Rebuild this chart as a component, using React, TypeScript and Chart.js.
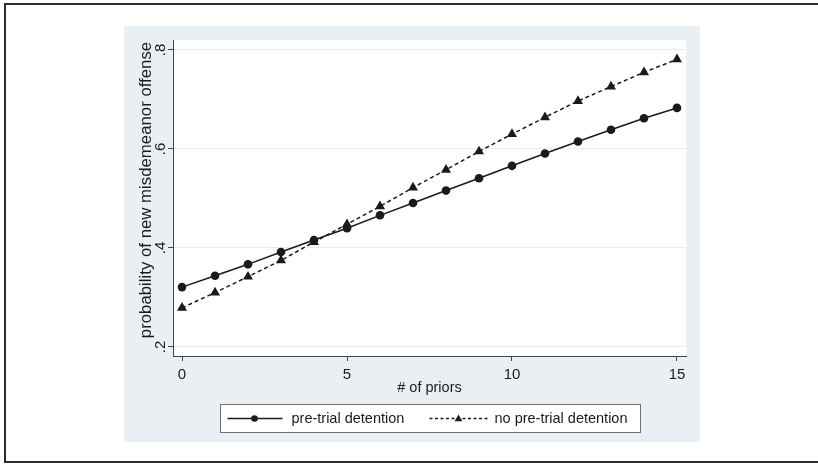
import React, { useEffect, useRef } from "react";
import { Chart, registerables } from "chart.js";

Chart.register(...registerables);

// ---- data ----
const priors = [0, 1, 2, 3, 4, 5, 6, 7, 8, 9, 10, 11, 12, 13, 14, 15];
const preTrial = [0.321, 0.344, 0.367, 0.392, 0.416, 0.44, 0.466, 0.491, 0.516, 0.541, 0.566, 0.591, 0.615, 0.639, 0.662, 0.683];
const noPreTrial = [0.279, 0.31, 0.342, 0.375, 0.412, 0.448, 0.484, 0.522, 0.558, 0.595, 0.63, 0.664, 0.697, 0.726, 0.755, 0.781];
const xTicks = [0, 5, 10, 15];
const yTicks = [0.2, 0.4, 0.6, 0.8];
const yTickLabels = [".2", ".4", ".6", ".8"];
const seriesLabels = ["pre-trial detention", "no pre-trial detention"];
const xTitle = "# of priors";
const yTitle = "probability of new misdemeanor offense";

const FONT = 'Arial, "Liberation Sans", Helvetica, sans-serif';
const PANEL = "#e9eff2";
const INK = "#1a1a1a";

function drawCircle(ctx: CanvasRenderingContext2D, x: number, y: number, r: number) {
  ctx.beginPath();
  ctx.arc(x, y, r, 0, Math.PI * 2);
  ctx.fill();
}
function drawTriangle(ctx: CanvasRenderingContext2D, x: number, y: number, r: number) {
  ctx.beginPath();
  ctx.moveTo(x, y - r);
  ctx.lineTo(x + r * Math.sin((2 * Math.PI) / 3), y - r * Math.cos((2 * Math.PI) / 3));
  ctx.lineTo(x + r * Math.sin((4 * Math.PI) / 3), y - r * Math.cos((4 * Math.PI) / 3));
  ctx.closePath();
  ctx.fill();
}

const backgroundPlugin = {
  id: "panelBackground",
  beforeDraw(chart: any) {
    const { ctx, chartArea } = chart;
    ctx.save();
    ctx.fillStyle = PANEL;
    ctx.fillRect(0, 0, chart.width, chart.height);
    ctx.fillStyle = "#ffffff";
    ctx.fillRect(chartArea.left, chartArea.top, chartArea.right - chartArea.left, chartArea.bottom - chartArea.top);
    ctx.restore();
  },
};

// y-axis title, drawn rotated beside the axis
const yTitlePlugin = {
  id: "yTitle",
  afterDraw(chart: any) {
    const ctx: CanvasRenderingContext2D = chart.ctx;
    const { chartArea } = chart;
    ctx.save();
    ctx.translate(22, (chartArea.top + chartArea.bottom) / 2 - 8);
    ctx.rotate(-Math.PI / 2);
    ctx.font = `16.8px ${FONT}`;
    ctx.fillStyle = INK;
    ctx.textAlign = "center";
    ctx.textBaseline = "middle";
    ctx.fillText(yTitle, 0, 0);
    ctx.restore();
  },
};

const boxLegendPlugin = {
  id: "boxLegend",
  afterDraw(chart: any) {
    const ctx: CanvasRenderingContext2D = chart.ctx;
    const { chartArea } = chart;
    const boxW = 420;
    const boxH = 28;
    const bx = Math.round((chartArea.left + chartArea.right) / 2 - boxW / 2) + 0.5;
    const by = 378.5;
    ctx.save();
    ctx.fillStyle = "#ffffff";
    ctx.fillRect(bx, by, boxW, boxH);
    ctx.strokeStyle = "#707070";
    ctx.lineWidth = 1;
    ctx.strokeRect(bx, by, boxW, boxH);
    const cy = by + boxH / 2;
    ctx.strokeStyle = INK;
    ctx.fillStyle = INK;
    // item 1
    ctx.lineWidth = 1.5;
    ctx.setLineDash([]);
    ctx.beginPath();
    ctx.moveTo(bx + 7, cy);
    ctx.lineTo(bx + 62, cy);
    ctx.stroke();
    drawCircle(ctx, bx + 34, cy, 3.3);
    // item 2
    ctx.setLineDash([3, 2.5]);
    ctx.beginPath();
    ctx.moveTo(bx + 209, cy);
    ctx.lineTo(bx + 267, cy);
    ctx.stroke();
    ctx.setLineDash([]);
    drawTriangle(ctx, bx + 238, cy + 0.5, 4.5);
    ctx.font = `14.5px ${FONT}`;
    ctx.textBaseline = "middle";
    ctx.textAlign = "left";
    ctx.fillStyle = INK;
    ctx.fillText(seriesLabels[0], bx + 71, cy + 0.5);
    ctx.fillText(seriesLabels[1], bx + 274, cy + 0.5);
    ctx.restore();
  },
};

export default function App() {
  const canvasRef = useRef<HTMLCanvasElement | null>(null);

  useEffect(() => {
    const canvas = canvasRef.current;
    if (!canvas) return;
    const chart = new Chart(canvas, {
      type: "line",
      data: {
        datasets: [
          {
            label: seriesLabels[0],
            data: priors.map((p, i) => ({ x: p, y: preTrial[i] })),
            borderColor: INK,
            backgroundColor: INK,
            borderWidth: 1.5,
            pointStyle: "circle",
            pointRadius: 4.3,
            pointBorderWidth: 0,
            pointBackgroundColor: INK,
            tension: 0,
          },
          {
            label: seriesLabels[1],
            data: priors.map((p, i) => ({ x: p, y: noPreTrial[i] })),
            borderColor: INK,
            backgroundColor: INK,
            borderWidth: 1.5,
            borderDash: [4, 3],
            pointStyle: "triangle",
            pointRadius: 5.8,
            pointBorderWidth: 0,
            pointBackgroundColor: INK,
            tension: 0,
          },
        ],
      },
      options: {
        animation: false,
        responsive: false,
        devicePixelRatio: 1,
        layout: { padding: { top: 14, right: 14, left: 0, bottom: 0 } },
        plugins: {
          legend: { display: false },
          tooltip: { enabled: false },
        },
        scales: {
          x: {
            type: "linear",
            min: -0.273,
            max: 15.273,
            afterBuildTicks: (scale: any) => {
              scale.ticks = xTicks.map((v) => ({ value: v }));
            },
            afterFit: (scale: any) => {
              scale.height = 86;
            },
            grid: { drawOnChartArea: false, tickLength: 5, tickColor: "#444", tickWidth: 1 },
            border: { display: true, color: "#444", width: 1 },
            ticks: {
              autoSkip: false,
              maxRotation: 0,
              minRotation: 0,
              padding: 5,
              color: INK,
              font: { family: FONT, size: 15 },
              callback: (v: any) => String(v),
            },
            title: {
              display: true,
              text: xTitle,
              color: INK,
              font: { family: FONT, size: 14.5 },
              padding: { top: 0, bottom: 45 },
            },
          },
          y: {
            type: "linear",
            min: 0.1818,
            max: 0.8202,
            afterBuildTicks: (scale: any) => {
              scale.ticks = yTicks.map((v) => ({ value: v }));
            },
            afterFit: (scale: any) => {
              scale.width = 49;
            },
            grid: { color: "#ebebeb", lineWidth: 1, tickLength: 5, tickColor: "#444", tickWidth: 1 },
            border: { display: true, color: "#444", width: 1 },
            ticks: {
              autoSkip: false,
              minRotation: 90,
              maxRotation: 90,
              crossAlign: "center",
              padding: 1,
              color: INK,
              font: { family: FONT, size: 15 },
              callback: (v: any) => {
                const i = yTicks.findIndex((t) => Math.abs(t - Number(v)) < 1e-6);
                return i >= 0 ? yTickLabels[i] : "";
              },
            },
            title: { display: false },
          },
        },
      },
      plugins: [backgroundPlugin, yTitlePlugin, boxLegendPlugin],
    } as any);
    return () => chart.destroy();
  }, []);

  return (
    <div
      style={{
        position: "fixed",
        left: 0,
        top: 0,
        width: 818,
        height: 464,
        overflow: "hidden",
        background: "#ffffff",
      }}
    >
      <div
        style={{
          position: "absolute",
          left: 4,
          top: 3,
          width: 830,
          height: 456,
          border: "2px solid #2b2b2b",
          borderRight: "none",
        }}
      />
      <div style={{ position: "absolute", left: 124, top: 26, width: 576, height: 416 }}>
        <canvas ref={canvasRef} width={576} height={416} style={{ display: "block", width: 576, height: 416 }} />
      </div>
    </div>
  );
}
